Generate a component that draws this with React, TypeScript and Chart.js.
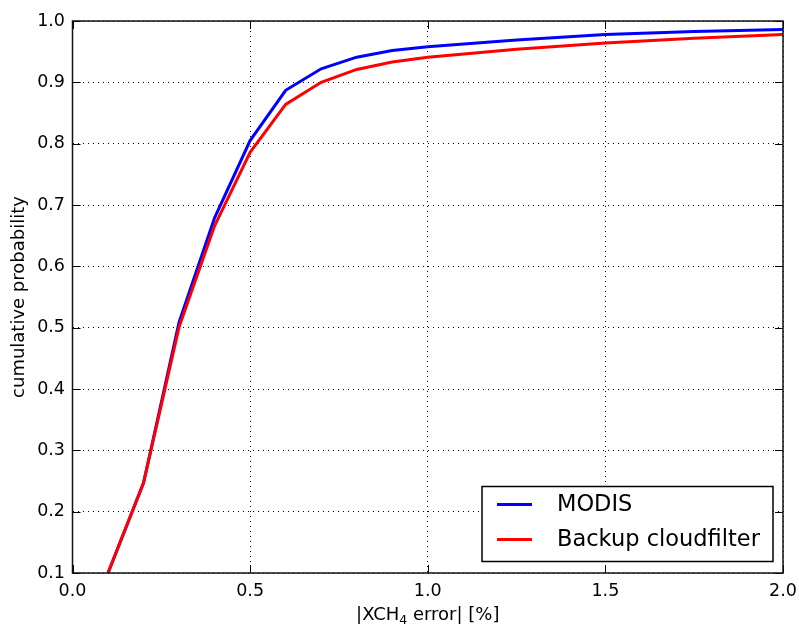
import React, { useEffect, useRef } from 'react';
import { Chart, registerables } from 'chart.js';

Chart.register(...registerables);

const errorPct = [0.1, 0.2, 0.3, 0.4, 0.5, 0.6, 0.7, 0.8, 0.9, 1.0, 1.25, 1.5, 1.75, 2.0];
const modisProb = [0.1, 0.247, 0.509, 0.679, 0.805, 0.887, 0.922, 0.941, 0.952, 0.958, 0.969, 0.978, 0.983, 0.986];
const backupProb = [0.1, 0.247, 0.501, 0.666, 0.786, 0.864, 0.9, 0.921, 0.933, 0.941, 0.954, 0.964, 0.972, 0.978];
const xTicks = [0.0, 0.5, 1.0, 1.5, 2.0];
const yTicks = [0.1, 0.2, 0.3, 0.4, 0.5, 0.6, 0.7, 0.8, 0.9, 1.0];
const seriesNames = ['MODIS', 'Backup cloudfilter'];
const seriesColors = ['#0000ff', '#ff0000'];

const FONT = '"DejaVu Sans", sans-serif';

const decorPlugin = {
  id: 'decor',
  afterDraw(chart: any) {
    const { ctx, chartArea, scales } = chart;
    const { left, right, top, bottom } = chartArea;
    const xs = scales.x;
    const ys = scales.y;
    ctx.save();
    // inward ticks
    ctx.strokeStyle = '#000';
    ctx.lineWidth = 1;
    const tl = 8;
    xTicks.forEach((v) => {
      const px = Math.round(xs.getPixelForValue(v)) + 0.5;
      ctx.beginPath();
      ctx.moveTo(px, bottom);
      ctx.lineTo(px, bottom - tl);
      ctx.moveTo(px, top);
      ctx.lineTo(px, top + tl);
      ctx.stroke();
    });
    yTicks.forEach((v) => {
      const py = Math.round(ys.getPixelForValue(v)) + 0.5;
      ctx.beginPath();
      ctx.moveTo(left, py);
      ctx.lineTo(left + tl, py);
      ctx.moveTo(right, py);
      ctx.lineTo(right - tl, py);
      ctx.stroke();
    });
    // frame
    ctx.lineWidth = 1.5;
    ctx.strokeStyle = '#111';
    ctx.strokeRect(left, top, right - left, bottom - top);

    // y title
    ctx.fillStyle = '#000';
    ctx.font = `18px ${FONT}`;
    ctx.save();
    ctx.translate(19, (top + bottom) / 2);
    ctx.rotate(-Math.PI / 2);
    ctx.textAlign = 'center';
    ctx.textBaseline = 'middle';
    ctx.fillText('cumulative probability', 0, 0);
    ctx.restore();

    // x title with subscript
    const p1 = '|XCH';
    const sub = '4';
    const p2 = ' error| [%]';
    ctx.textBaseline = 'alphabetic';
    ctx.textAlign = 'left';
    ctx.font = `18px ${FONT}`;
    const w1 = ctx.measureText(p1).width;
    const w3 = ctx.measureText(p2).width;
    ctx.font = `12.5px ${FONT}`;
    const w2 = ctx.measureText(sub).width;
    const total = w1 + w2 + w3;
    const x0 = (left + right) / 2 - total / 2;
    const base = 620;
    ctx.font = `18px ${FONT}`;
    ctx.fillText(p1, x0, base);
    ctx.font = `12.5px ${FONT}`;
    ctx.fillText(sub, x0 + w1, base + 3.5);
    ctx.font = `18px ${FONT}`;
    ctx.fillText(p2, x0 + w1 + w2, base);

    // legend
    const bw = 291;
    const bh = 75;
    const bx = right - 10 - bw;
    const by = bottom - 11.5 - bh;
    ctx.fillStyle = '#fff';
    ctx.fillRect(bx, by, bw, bh);
    ctx.lineWidth = 1.5;
    ctx.strokeStyle = '#000';
    ctx.strokeRect(bx, by, bw, bh);
    ctx.font = `22.5px ${FONT}`;
    ctx.textBaseline = 'middle';
    chart.data.datasets.forEach((ds: any, i: number) => {
      const ry = by + 18 + i * 35;
      ctx.strokeStyle = ds.borderColor;
      ctx.lineWidth = 3;
      ctx.beginPath();
      ctx.moveTo(bx + 15, ry);
      ctx.lineTo(bx + 50, ry);
      ctx.stroke();
      ctx.fillStyle = '#000';
      ctx.fillText(ds.label, bx + 75, ry + 1);
    });
    ctx.restore();
  },
};

export default function App() {
  const canvasRef = useRef<HTMLCanvasElement | null>(null);

  useEffect(() => {
    document.body.style.margin = '0';
    const canvas = canvasRef.current;
    if (!canvas) return;
    const chart = new Chart(canvas, {
      type: 'line',
      data: {
        datasets: [modisProb, backupProb].map((vals, i) => ({
          label: seriesNames[i],
          data: errorPct.map((x, j) => ({ x, y: vals[j] })),
          borderColor: seriesColors[i],
          backgroundColor: seriesColors[i],
          borderWidth: 3,
          pointRadius: 0,
          tension: 0,
          fill: false,
          order: 1 - i,
        })),
      },
      options: {
        animation: false,
        responsive: false,
        devicePixelRatio: 1,
        layout: { padding: { left: 0, top: 21, right: 16, bottom: 0 } },
        plugins: {
          legend: { display: false },
          tooltip: { enabled: false },
        },
        scales: {
          x: {
            type: 'linear',
            min: 0,
            max: 2,
            afterBuildTicks: (s: any) => {
              s.ticks = xTicks.map((v) => ({ value: v }));
            },
            afterFit: (s: any) => {
              s.height = 51;
              s.paddingLeft = 0;
              s.paddingRight = 0;
            },
            ticks: {
              padding: 8,
              color: '#000',
              font: { family: FONT, size: 17.5 },
              maxRotation: 0,
              callback: (v: any) => Number(v).toFixed(1),
            },
            grid: {
              color: '#000',
              lineWidth: 1,
              drawTicks: false,
            },
            border: { display: false, dash: [1, 4] },
          },
          y: {
            type: 'linear',
            min: 0.1,
            max: 1.0,
            afterBuildTicks: (s: any) => {
              s.ticks = yTicks.map((v) => ({ value: v }));
            },
            afterFit: (s: any) => {
              s.width = 72.5;
              s.paddingTop = 0;
              s.paddingBottom = 0;
            },
            ticks: {
              padding: 7.5,
              color: '#000',
              font: { family: FONT, size: 17.5 },
              callback: (v: any) => Number(v).toFixed(1),
            },
            grid: {
              color: '#000',
              lineWidth: 1,
              drawTicks: false,
            },
            border: { display: false, dash: [1, 4] },
          },
        },
      },
      plugins: [decorPlugin],
    });
    return () => chart.destroy();
  }, []);

  return (
    <div style={{ position: 'absolute', left: 0, top: 0, width: 799, height: 624 }}>
      <canvas ref={canvasRef} width={799} height={624} style={{ width: 799, height: 624, display: 'block' }} />
    </div>
  );
}
